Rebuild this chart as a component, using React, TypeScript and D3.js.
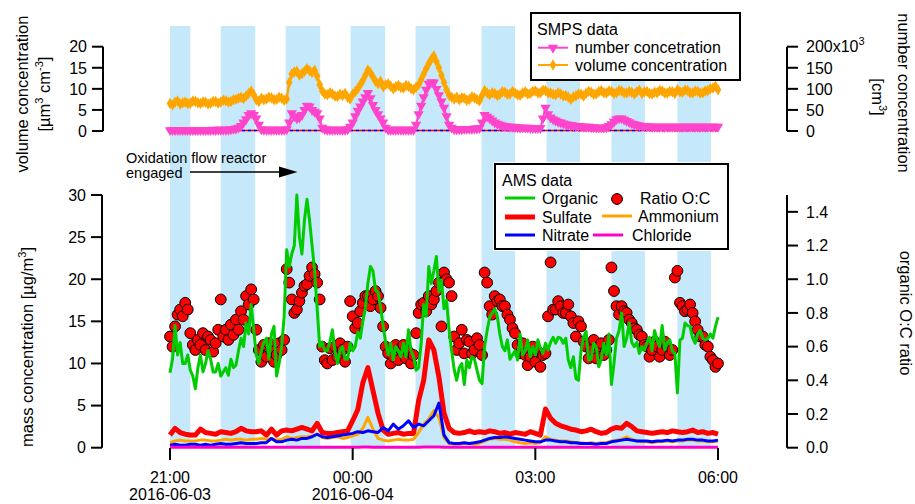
import React from "react";
import * as d3 from "d3";

// time axis: 21:00 (2016-06-03) to 06:00 (2016-06-04)
const startTime = new Date(2016, 5, 3, 21, 0);
const endTime = new Date(2016, 5, 4, 6, 0);
const fastStepMin = 2.5; // SMPS, organic and O:C
const slowStepMin = 5; // inorganic AMS species

// oxidation flow reactor periods (blue bands)
const bandStart = ["21:00", "21:50", "22:54", "23:58", "01:02", "02:07", "03:11", "04:15", "05:20"];
const bandEnd = ["21:20", "22:24", "23:28", "00:32", "01:36", "02:40", "03:44", "04:48", "05:53"];

// SMPS volume concentration, um3 cm-3
const volumeConc = [
  6.5, 6.2, 6.8, 7.1, 6.4, 6.7, 6.9, 6.5, 6.6, 7.1,
  7.0, 6.7, 6.5, 6.9, 6.8, 6.4, 6.6, 7.0, 7.0, 6.6,
  6.9, 7.3, 7.2, 6.9, 7.0, 7.4, 7.5, 7.8, 8.0, 7.7,
  8.3, 8.9, 9.5, 8.6, 7.4, 7.0, 7.8, 7.4, 7.6, 8.0,
  7.9, 7.4, 7.5, 8.0, 7.8, 7.3, 7.6, 11.5, 13.5, 14.0,
  14.2, 13.3, 13.6, 14.2, 14.8, 14.3, 13.9, 14.4, 13.0, 11.0,
  9.5, 8.8, 8.6, 9.1, 8.8, 8.3, 8.2, 8.7, 8.4, 8.9,
  8.0, 7.6, 8.7, 9.3, 10.0, 11.0, 12.0, 13.2, 14.5, 13.8,
  12.8, 11.8, 11.2, 11.8, 10.5, 11.0, 11.2, 10.6, 10.0, 10.5,
  10.8, 10.3, 10.2, 10.8, 10.6, 10.1, 9.8, 10.4, 11.0, 12.2,
  13.5, 14.8, 16.0, 17.0, 17.8, 16.5, 15.0, 13.2, 11.5, 9.8,
  8.5, 8.0, 7.6, 8.0, 7.4, 7.9, 7.8, 7.3, 7.5, 8.1,
  7.9, 7.5, 7.2, 8.4, 9.6, 9.0, 8.6, 9.1, 8.9, 8.4,
  8.7, 9.3, 9.2, 8.7, 8.8, 9.4, 9.0, 8.6, 8.5, 9.0,
  9.3, 8.8, 8.9, 9.4, 9.5, 9.0, 9.1, 9.7, 9.6, 9.1,
  9.0, 8.7, 8.6, 9.1, 8.8, 8.3, 8.4, 8.0, 7.5, 8.1,
  8.3, 8.8, 8.7, 8.3, 8.9, 9.4, 9.2, 8.7, 8.8, 9.3,
  9.6, 9.1, 9.0, 9.5, 9.4, 8.9, 9.1, 9.6, 9.5, 9.0,
  9.0, 9.4, 9.2, 8.8, 9.3, 9.7, 8.9, 9.3, 9.4, 8.9,
  8.8, 9.2, 9.1, 9.6, 9.5, 9.0, 9.0, 9.4, 9.3, 8.9,
  9.8, 9.3, 9.2, 9.7, 9.6, 9.1, 9.0, 9.5, 9.4, 9.0,
  9.1, 9.5, 9.6, 10.0, 10.2, 10.6, 9.8,
];
// SMPS number concentration, x10^3 cm-3
const numberConc = [
  2, 2, 2, 2, 2, 2, 2, 2, 2, 2,
  2, 2, 2, 2, 2, 2, 2, 3, 2, 3,
  3, 3, 3, 3, 4, 5, 6, 8, 12, 20,
  28, 38, 42, 38, 30, 15, 4, 3, 3, 3,
  3, 3, 3, 3, 3, 3, 4, 20, 42, 35,
  30, 32, 38, 50, 60, 58, 50, 46, 42, 30,
  8, 4, 3, 3, 3, 3, 3, 3, 3, 3,
  4, 10, 20, 35, 48, 58, 70, 80, 90, 78,
  62, 50, 40, 30, 20, 8, 3, 3, 3, 3,
  3, 3, 3, 3, 3, 3, 3, 15, 40, 60,
  80, 98, 112, 116, 115, 100, 85, 70, 55, 35,
  15, 8, 4, 4, 4, 4, 5, 5, 5, 5,
  6, 6, 7, 20, 38, 34, 30, 25, 20, 17,
  15, 13, 12, 11, 10, 10, 9, 9, 8, 8,
  8, 8, 7, 7, 7, 7, 7, 30, 55, 40,
  32, 28, 25, 22, 20, 18, 16, 15, 14, 13,
  12, 12, 11, 10, 10, 10, 9, 9, 8, 8,
  8, 8, 9, 12, 16, 22, 28, 30, 30, 27,
  24, 21, 18, 16, 14, 13, 12, 12, 11, 11,
  10, 10, 10, 10, 10, 10, 10, 10, 10, 10,
  10, 10, 10, 10, 10, 10, 10, 10, 10, 10,
  10, 10, 10, 10, 10, 10, 10,
];
const smpsZeroLine = [0.1, 0.1];

// AMS organic, ug m-3
const organic = [
  8.9, 10.5, 14.5, 11.0, 12.5, 10.0, 10.0, 11.0, 9.2, 8.5,
  7.0, 9.5, 11.0, 9.0, 10.0, 11.5, 10.5, 9.0, 9.0, 10.0,
  8.5, 9.0, 9.5, 8.6, 10.5, 9.5, 9.8, 11.5, 13.0, 12.0,
  14.8, 13.5, 17.0, 14.0, 11.0, 10.0, 11.5, 12.5, 13.0, 10.5,
  13.5, 14.4, 8.5, 10.0, 12.0, 15.6, 23.5, 21.5, 23.0, 24.0,
  30.0, 25.0, 23.0, 27.0, 29.5, 27.0, 24.0, 21.0, 16.5, 12.0,
  12.5, 11.5, 11.5, 12.5, 14.0, 11.5, 10.0, 11.5, 12.0, 10.5,
  10.5, 12.4, 11.5, 12.0, 13.7, 13.0, 15.0, 16.5, 19.5, 21.5,
  21.0, 18.7, 18.5, 16.7, 14.5, 12.5, 11.0, 12.4, 10.4, 12.0,
  11.5, 10.8, 12.4, 10.8, 14.0, 11.5, 10.8, 9.2, 9.5, 12.4,
  17.0, 15.6, 21.5, 19.5, 21.0, 22.7, 18.5, 19.9, 16.5, 17.5,
  14.0, 11.5, 9.3, 8.0, 9.5, 10.0, 7.5, 10.4, 9.5, 10.8,
  10.5, 9.2, 8.0, 7.6, 12.0, 13.9, 15.5, 16.0, 16.5, 15.6,
  13.5, 12.0, 11.5, 12.8, 10.5, 11.0, 11.5, 10.4, 13.5, 11.0,
  11.5, 12.8, 10.8, 12.0, 11.0, 12.8, 11.8, 11.2, 12.4, 11.6,
  12.5, 13.1, 12.4, 13.1, 13.0, 12.4, 13.0, 10.4, 9.5, 10.8,
  8.2, 8.0, 11.5, 13.1, 13.8, 10.4, 10.5, 12.4, 12.0, 9.6,
  10.5, 12.4, 11.0, 13.5, 7.5, 10.0, 13.0, 13.9, 16.0, 12.0,
  13.0, 14.8, 12.5, 12.0, 12.5, 11.2, 12.0, 11.6, 12.5, 13.1,
  11.5, 13.9, 12.8, 12.0, 14.5, 11.6, 12.5, 12.8, 11.5, 11.2,
  6.5, 12.8, 13.0, 14.8, 14.5, 14.4, 13.0, 12.4, 13.5, 13.9,
  13.0, 12.8, 13.0, 13.5, 13.0, 14.4, 15.5,
];
// organic O:C ratio
const ratioOC = [
  0.66, 0.60, 0.72, 0.79, 0.82, 0.78, 0.86, 0.82, 0.68, 0.61,
  0.58, 0.64, 0.61, 0.68, 0.58, 0.66, 0.64, 0.57, 0.62, 0.70,
  0.88, 0.66, 0.70, 0.64, 0.73, 0.67, 0.76, 0.70, 0.81, 0.76,
  0.90, 0.85, 0.94, 0.88, 0.70, 0.58, 0.51, 0.61, 0.54, 0.62,
  0.57, 0.51, 0.55, 0.62, 0.58, 0.64, 1.06, 0.98, 0.88, 0.80,
  0.82, 0.87, 0.92, 0.96, 0.97, 1.02, 1.07, 1.03, 0.98, 0.88,
  0.60, 0.52, 0.50, 0.59, 0.52, 0.60, 0.54, 0.62, 0.58, 0.51,
  0.60, 0.87, 0.78, 0.71, 0.74, 0.81, 0.86, 0.90, 0.90, 0.84,
  0.88, 0.93, 0.90, 0.83, 0.72, 0.60, 0.56, 0.50, 0.54, 0.61,
  0.52, 0.59, 0.61, 0.53, 0.57, 0.50, 0.55, 0.68, 0.80, 0.85,
  0.86, 0.81, 0.90, 0.85, 0.88, 0.93, 0.98, 0.72, 1.04, 1.00,
  0.98, 0.90, 0.66, 0.58, 0.62, 0.70, 0.56, 0.64, 0.63, 0.56,
  0.58, 0.65, 0.61, 0.55, 1.04, 0.98, 0.84, 0.79, 0.90, 0.87,
  0.88, 0.84, 0.84, 0.79, 0.76, 0.71, 0.68, 0.61, 0.56, 0.62,
  0.55, 0.49, 0.54, 0.60, 0.51, 0.57, 0.48, 0.55, 0.56, 0.78,
  1.10, 0.82, 0.82, 0.87, 0.84, 0.80, 0.80, 0.85, 0.78, 0.74,
  0.66, 0.75, 0.72, 0.63, 0.60, 0.53, 0.58, 0.64, 0.53, 0.60,
  0.62, 0.55, 0.58, 0.64, 1.07, 0.93, 0.84, 0.79, 0.84, 0.81,
  0.80, 0.76, 0.74, 0.71, 0.70, 0.67, 0.66, 0.61, 0.60, 0.54,
  0.58, 0.63, 0.60, 0.54, 0.58, 0.63, 0.60, 0.55, 0.58, 1.01,
  1.05, 0.86, 0.84, 0.81, 0.82, 0.85, 0.80, 0.75, 0.70, 0.66,
  0.66, 0.61, 0.60, 0.54, 0.52, 0.48, 0.50,
];

// AMS inorganic species, ug m-3 (5 min)
const sulfate = [
  1.5, 2.3, 1.8, 1.6, 1.5, 1.5, 2.2, 1.8, 1.7, 1.6,
  1.9, 1.8, 1.7, 1.9, 2.3, 2.0, 1.9, 1.9, 2.0, 1.5,
  2.2, 1.5, 2.0, 2.1, 2.0, 2.2, 2.4, 2.2, 2.0, 2.9,
  1.8, 1.7, 1.7, 1.8, 1.9, 2.0, 3.2, 4.5, 7.7, 9.5,
  6.8, 4.1, 2.1, 1.6, 1.7, 1.8, 1.6, 1.7, 1.7, 5.6,
  8.0, 12.8, 11.6, 8.4, 4.1, 2.3, 1.8, 1.7, 1.8, 2.0,
  1.8, 1.9, 1.8, 2.0, 1.9, 1.7, 1.8, 1.6, 1.8, 1.7,
  1.6, 1.9, 1.7, 1.5, 4.6, 3.5, 2.9, 2.6, 2.4, 2.2,
  2.1, 1.9, 2.0, 2.2, 1.9, 1.7, 1.8, 2.2, 2.4, 2.3,
  2.9, 2.5, 2.0, 1.9, 1.8, 1.7, 1.8, 1.9, 1.8, 2.0,
  1.9, 1.8, 1.9, 2.1, 1.8, 1.9, 1.7, 1.8, 1.6,
];
const ammonium = [
  0.6, 0.8, 0.9, 0.8, 0.8, 0.8, 0.9, 0.9, 0.8, 0.8,
  0.9, 1.0, 0.9, 1.0, 1.0, 0.9, 1.0, 1.0, 1.1, 1.0,
  1.1, 0.9, 1.0, 1.3, 1.1, 1.2, 1.3, 1.3, 1.4, 1.6,
  1.2, 1.1, 1.2, 1.3, 1.1, 1.2, 1.4, 1.6, 2.3, 3.6,
  2.2, 1.1, 0.9, 0.8, 0.9, 1.0, 0.9, 0.9, 1.0, 1.8,
  2.8, 3.4, 4.4, 3.6, 1.2, 0.5, 0.4, 0.4, 0.5, 0.5,
  0.4, 0.5, 0.8, 1.0, 1.1, 1.0, 1.0, 0.9, 0.7, 0.6,
  0.5, 0.6, 0.5, 0.6, 1.3, 1.0, 0.9, 0.8, 0.8, 0.7,
  0.6, 0.6, 0.5, 0.6, 0.5, 0.6, 0.6, 0.8, 0.9, 1.0,
  1.3, 1.0, 0.8, 0.7, 0.7, 0.6, 0.7, 0.7, 0.8, 0.7,
  0.8, 0.8, 0.9, 0.9, 0.8, 0.8, 0.7, 0.7, 0.8,
];
const nitrate = [
  0.3, 0.4, 0.3, 0.3, 0.4, 0.4, 0.3, 0.4, 0.3, 0.4,
  0.5, 0.4, 0.4, 0.5, 0.6, 0.5, 0.5, 0.5, 0.6, 0.6,
  1.1, 0.7, 0.7, 0.9, 1.0, 0.9, 1.1, 1.1, 1.3, 1.6,
  1.3, 1.2, 1.3, 1.4, 1.5, 1.6, 1.7, 1.9, 1.8, 2.0,
  1.9, 1.8, 2.4, 2.0, 2.8, 2.2, 2.6, 3.2, 2.4, 2.8,
  2.6, 3.2, 3.8, 5.3, 1.5, 0.6, 0.5, 0.5, 0.6, 0.5,
  0.6, 0.7, 0.9, 1.1, 1.2, 1.2, 1.3, 1.2, 1.1, 1.0,
  0.9, 0.8, 0.7, 0.7, 0.9, 0.9, 0.8, 0.7, 0.7, 0.6,
  0.6, 0.5, 0.5, 0.5, 0.4, 0.5, 0.5, 0.7, 0.8, 0.9,
  1.0, 0.9, 0.8, 0.8, 0.8, 0.7, 0.8, 0.8, 0.9, 0.8,
  0.9, 0.9, 1.0, 1.0, 0.9, 0.9, 0.8, 0.8, 0.9,
];
const chloride = [
  0.05, 0.05, 0.06, 0.05, 0.05, 0.05, 0.06, 0.05, 0.05, 0.05,
  0.05, 0.06, 0.05, 0.05, 0.05, 0.06, 0.05, 0.05, 0.05, 0.05,
  0.06, 0.05, 0.05, 0.05, 0.06, 0.05, 0.05, 0.06, 0.05, 0.05,
  0.05, 0.05, 0.06, 0.05, 0.05, 0.05, 0.06, 0.06, 0.07, 0.07,
  0.06, 0.05, 0.05, 0.05, 0.05, 0.06, 0.05, 0.05, 0.05, 0.06,
  0.07, 0.08, 0.08, 0.07, 0.06, 0.05, 0.05, 0.05, 0.05, 0.05,
  0.05, 0.05, 0.05, 0.06, 0.05, 0.05, 0.05, 0.05, 0.05, 0.05,
  0.05, 0.05, 0.05, 0.05, 0.06, 0.05, 0.05, 0.05, 0.05, 0.05,
  0.05, 0.05, 0.05, 0.05, 0.05, 0.05, 0.05, 0.05, 0.05, 0.05,
  0.05, 0.05, 0.05, 0.05, 0.05, 0.05, 0.05, 0.05, 0.05, 0.05,
  0.05, 0.05, 0.05, 0.05, 0.05, 0.05, 0.05, 0.05, 0.05,
];

const fastTimes = organic.map((_, i) => new Date(startTime.getTime() + i * fastStepMin * 60000));
const slowTimes = sulfate.map((_, i) => new Date(startTime.getTime() + i * slowStepMin * 60000));

const parseClock = (s: string) => {
  const [h, m] = s.split(":").map(Number);
  return new Date(2016, 5, h >= 12 ? 3 : 4, h, m);
};

const FONT = "'Liberation Sans', Arial, Helvetica, sans-serif";
const BAND = "#c5e9fa";
const GREEN = "#00cc00";
const RED = "#ff0000";
const BLUE = "#0000ff";
const ORANGE = "#ffa500";
const PINK = "#ff44cc";
const MAGENTA = "#ff00cc";

export default function App() {
  const x = d3.scaleTime().domain([startTime, endTime]).range([170, 718]);
  const yVol = d3.scaleLinear().domain([0, 20]).range([131, 46.7]);
  const yNum = d3.scaleLinear().domain([0, 200]).range([131, 46.7]);
  const yMass = d3.scaleLinear().domain([0, 30]).range([447.7, 195]);
  const yOC = d3.scaleLinear().domain([0, 1.5]).range([447.7, 195]);

  const lineOf = (t: Date[], y: d3.ScaleLinear<number, number>) =>
    d3.line<number>().x((_, i) => x(t[i])).y((d) => y(d));

  const tri = d3.symbol().type(d3.symbolTriangle).size(46)() as string;
  const dia = d3.symbol().type(d3.symbolDiamond).size(38)() as string;

  const timeTicks = x.ticks(d3.timeHour.every(3) as d3.TimeInterval);
  const fmtTime = d3.timeFormat("%H:%M");
  const fmtDate = d3.timeFormat("%Y-%m-%d");

  const leftAxis = (y: d3.ScaleLinear<number, number>, ticks: number[], x0: number) => (
    <g>
      <line x1={x0} x2={x0} y1={y(ticks[ticks.length - 1])} y2={y(0)} stroke="#000" strokeWidth={2} />
      {ticks.map((t) => (
        <g key={t}>
          <line x1={x0 - 11} x2={x0} y1={y(t)} y2={y(t)} stroke="#000" strokeWidth={2} />
          <text x={x0 - 16} y={y(t)} dy="0.36em" textAnchor="end" fontSize={16}>{t}</text>
        </g>
      ))}
    </g>
  );

  const zeroX = [startTime, endTime];

  return (
    <svg width={915} height={504} style={{ position: "absolute", left: 0, top: 0, background: "#fff" }} fontFamily={FONT}>
      {/* reactor bands */}
      {bandStart.map((s, i) => (
        <rect key={s} x={x(parseClock(s))} y={26} width={x(parseClock(bandEnd[i])) - x(parseClock(s))} height={422} fill={BAND} />
      ))}

      {/* ---- top panel: SMPS ---- */}
      <path d={lineOf(zeroX, yVol)(smpsZeroLine) as string} stroke={RED} strokeWidth={1.5} fill="none" />
      <path d={lineOf(zeroX, yVol)(smpsZeroLine) as string} stroke={BLUE} strokeWidth={1.5} strokeDasharray="3,3" fill="none" />
      <path d={lineOf(fastTimes, yNum)(numberConc) as string} stroke={PINK} strokeWidth={2} fill="none" />
      {numberConc.map((d, i) => (
        <path key={"n" + i} d={tri} transform={`translate(${x(fastTimes[i])},${yNum(d)}) rotate(180)`} fill={PINK} />
      ))}
      <path d={lineOf(fastTimes, yVol)(volumeConc) as string} stroke={ORANGE} strokeWidth={2.5} fill="none" />
      {volumeConc.map((d, i) => (
        <path key={"v" + i} d={dia} transform={`translate(${x(fastTimes[i])},${yVol(d)})`} fill={ORANGE} />
      ))}

      {/* ---- bottom panel: AMS ---- */}
      {ratioOC.map((d, i) => (
        <circle key={"oc" + i} cx={x(fastTimes[i])} cy={yOC(d)} r={5.4} fill={RED} stroke="#000" strokeWidth={1} />
      ))}
      <path d={lineOf(fastTimes, yMass)(organic) as string} stroke={GREEN} strokeWidth={3} fill="none" strokeLinejoin="round" />
      <path d={lineOf(slowTimes, yMass)(sulfate) as string} stroke={RED} strokeWidth={5} fill="none" strokeLinejoin="round" />
      <path d={lineOf(slowTimes, yMass)(ammonium) as string} stroke={ORANGE} strokeWidth={3} fill="none" strokeLinejoin="round" />
      <path d={lineOf(slowTimes, yMass)(nitrate) as string} stroke={BLUE} strokeWidth={3} fill="none" strokeLinejoin="round" />
      <path d={lineOf(slowTimes, yMass)(chloride) as string} stroke={MAGENTA} strokeWidth={3} fill="none" />

      {/* ---- axes ---- */}
      {leftAxis(yVol, yVol.ticks(4), 103)}
      {leftAxis(yMass, yMass.ticks(6), 102)}

      <g>
        <line x1={787} x2={787} y1={yNum(200)} y2={yNum(0)} stroke="#000" strokeWidth={2} />
        {yNum.ticks(4).map((t) => (
          <g key={t}>
            <line x1={787} x2={798} y1={yNum(t)} y2={yNum(t)} stroke="#000" strokeWidth={2} />
            <text x={806} y={yNum(t)} dy="0.36em" fontSize={16}>
              {t === 200 ? (<>200x10<tspan dy="-7" fontSize={11}>3</tspan></>) : t}
            </text>
          </g>
        ))}
      </g>
      <g>
        <line x1={787} x2={787} y1={yOC(1.5)} y2={yOC(0)} stroke="#000" strokeWidth={2} />
        {yOC.ticks(8).map((t) => (
          <g key={t}>
            <line x1={787} x2={798} y1={yOC(t)} y2={yOC(t)} stroke="#000" strokeWidth={2} />
            <text x={806} y={yOC(t)} dy="0.36em" fontSize={16}>{d3.format(".1f")(t)}</text>
          </g>
        ))}
      </g>
      {timeTicks.map((t) => (
        <g key={t.getTime()}>
          <line x1={x(t)} x2={x(t)} y1={448} y2={460} stroke="#000" strokeWidth={2} />
          <text x={x(t)} y={483} textAnchor="middle" fontSize={16}>{fmtTime(t)}</text>
          {(t.getTime() === startTime.getTime() || t.getHours() === 0) && (
            <text x={x(t)} y={500} textAnchor="middle" fontSize={16}>{fmtDate(t)}</text>
          )}
        </g>
      ))}

      {/* axis titles */}
      <text transform="translate(28,94) rotate(-90)" textAnchor="middle" fontSize={16.5}>volume concentration</text>
      <text transform="translate(50,94) rotate(-90)" textAnchor="middle" fontSize={16.5}>
        [µm<tspan dy="-7" fontSize={11}>3</tspan><tspan dy="7"> cm</tspan><tspan dy="-7" fontSize={11}>-3</tspan><tspan dy="7">]</tspan>
      </text>
      <text transform="translate(33,347) rotate(-90)" textAnchor="middle" fontSize={16.5}>
        mass concentration [µg/m<tspan dy="-7" fontSize={11}>3</tspan><tspan dy="7">]</tspan>
      </text>
      <text transform="translate(898,93) rotate(90)" textAnchor="middle" fontSize={16.5}>number concentration</text>
      <text transform="translate(872,97) rotate(90)" textAnchor="middle" fontSize={16.5}>
        [cm<tspan dy="-7" fontSize={11}>3</tspan><tspan dy="7">]</tspan>
      </text>
      <text transform="translate(900,313) rotate(90)" textAnchor="middle" fontSize={16.5}>organic O:C ratio</text>

      {/* annotation */}
      <text x={126} y={163} fontSize={14.5}>Oxidation flow reactor</text>
      <text x={126} y={178} fontSize={14.5}>engaged</text>
      <line x1={190} x2={282} y1={172} y2={172} stroke="#000" strokeWidth={1.5} />
      <path d="M297.5,172 L279,166.5 L279,177.5 Z" fill="#000" />

      {/* SMPS legend */}
      <g>
        <rect x={531} y={13} width={209} height={67} fill="#fff" stroke="#000" strokeWidth={2} />
        <text x={537} y={35} fontSize={16}>SMPS data</text>
        <line x1={538} x2={568} y1={47.7} y2={47.7} stroke={PINK} strokeWidth={2} />
        <path d={tri} transform="translate(553,47.7) rotate(180)" fill={PINK} />
        <text x={575} y={53} fontSize={16}>number concetration</text>
        <line x1={538} x2={568} y1={65} y2={65} stroke={ORANGE} strokeWidth={2} />
        <path d={dia} transform="translate(553,65)" fill={ORANGE} />
        <text x={575} y={71} fontSize={16}>volume concentration</text>
      </g>

      {/* AMS legend */}
      <g>
        <rect x={493} y={162} width={237} height={89} fill="#fff" />
        <rect x={495} y={164} width={233} height={85} fill="#fff" stroke="#000" strokeWidth={2} />
        <text x={502} y={186} fontSize={16}>AMS data</text>
        <line x1={505} x2={535} y1={198} y2={198} stroke={GREEN} strokeWidth={3} />
        <text x={542} y={204} fontSize={16}>Organic</text>
        <circle cx={617} cy={199} r={5.4} fill={RED} stroke="#000" strokeWidth={1} />
        <text x={640} y={204} fontSize={16}>Ratio O:C</text>
        <line x1={505} x2={535} y1={217} y2={217} stroke={RED} strokeWidth={5} />
        <text x={542} y={223} fontSize={16}>Sulfate</text>
        <line x1={602} x2={632} y1={216} y2={216} stroke={ORANGE} strokeWidth={3} />
        <text x={638} y={222} fontSize={16}>Ammonium</text>
        <line x1={505} x2={535} y1={235} y2={235} stroke={BLUE} strokeWidth={3} />
        <text x={542} y={241} fontSize={16}>Nitrate</text>
        <line x1={593} x2={623} y1={235} y2={235} stroke={MAGENTA} strokeWidth={3} />
        <text x={632} y={241} fontSize={16}>Chloride</text>
      </g>
    </svg>
  );
}
